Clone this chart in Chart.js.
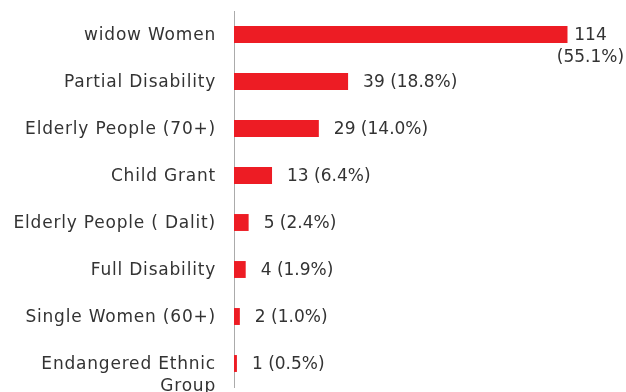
<!DOCTYPE html>
<html>
<head>
<meta charset="utf-8">
<script src="https://cdn.jsdelivr.net/npm/chart.js@4"></script>
<style>
  html, body { margin: 0; padding: 0; background: #fff; }
  canvas { display: block; }
</style>
</head>
<body>
<canvas id="beneficiaries" width="626" height="392"></canvas>
<script>
const categories = [
	["widow Women"],
	["Partial Disability"],
	["Elderly People (70+)"],
	["Child Grant"],
	["Elderly People ( Dalit)"],
	["Full Disability"],
	["Single Women (60+)"],
	["Endangered Ethnic", "Group"]
];
const counts = [114, 39, 29, 13, 5, 4, 2, 1];
const percents = ["55.1%", "18.8%", "14.0%", "6.4%", "2.4%", "1.9%", "1.0%", "0.5%"];

const text_color = "#333333";
const label_font = "17px 'DejaVu Sans', sans-serif";
const line_height = 22;

// category names on the left, first line level with the bar
const category_labels = {
	id: "category_labels",
	afterDraw(chart) {
		const ctx = chart.ctx;
		const y_scale = chart.scales.y;
		ctx.save();
		ctx.font = label_font;
		ctx.letterSpacing = "0.8px";
		ctx.fillStyle = text_color;
		ctx.textAlign = "right";
		ctx.textBaseline = "middle";
		categories.forEach((lines, i) => {
			const y = y_scale.getPixelForValue(i) + 1;
			lines.forEach((line, j) => ctx.fillText(line, 216, y + j * line_height));
		});
		ctx.restore();
	}
};

// "count (percent)" after each bar, wrapped when it runs past the edge
const value_labels = {
	id: "value_labels",
	afterDatasetsDraw(chart) {
		const ctx = chart.ctx;
		const bars = chart.getDatasetMeta(0).data;
		ctx.save();
		ctx.font = label_font;
		ctx.fillStyle = text_color;
		ctx.textBaseline = "middle";
		bars.forEach((bar, i) => {
			const text = `${counts[i]} (${percents[i]})`;
			const x = bar.x + 15;
			const y = bar.y + 1;
			if (x + ctx.measureText(text).width > chart.width - 4) {
				ctx.textAlign = "center";
				ctx.fillText(String(counts[i]), bar.x + 23, y);
				ctx.fillText(`(${percents[i]})`, bar.x + 23, y + line_height);
			} else {
				ctx.textAlign = "left";
				ctx.fillText(text, x, y);
			}
		});
		ctx.restore();
	}
};

new Chart(document.getElementById("beneficiaries"), {
	type: "bar",
	data: {
		labels: categories.map(c => c.join(" ")),
		datasets: [{
			data: counts,
			backgroundColor: "#ed1c24",
			categoryPercentage: 1,
			barPercentage: 0.36
		}]
	},
	options: {
		indexAxis: "y",
		responsive: false,
		animation: false,
		devicePixelRatio: 1,
		layout: { padding: { top: 11, bottom: 5, left: 0, right: 0 } },
		plugins: {
			legend: { display: false },
			tooltip: { enabled: false }
		},
		scales: {
			x: { display: false, min: 0, max: 134 },
			y: {
				ticks: { display: false },
				grid: { display: false },
				border: { display: true, color: "#ababab", width: 1 },
				afterFit: (scale) => { scale.width = 234; }
			}
		}
	},
	plugins: [category_labels, value_labels]
});
</script>
</body>
</html>
